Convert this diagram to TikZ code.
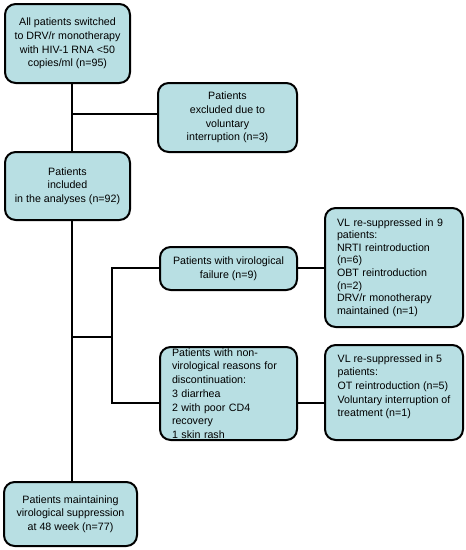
\documentclass[tikz,border=0pt]{standalone}
\usepackage{fontspec}
\setmainfont{Liberation Sans}
\definecolor{boxfill}{RGB}{184,223,227}
\begin{document}
\begin{tikzpicture}[x=0.75pt,y=-0.75pt,
  box/.style={draw=black,line width=1.5pt,fill=boxfill,rounded corners=8pt,
    inner sep=0pt,font=\fontsize{8pt}{10.3pt}\selectfont},
  cbox/.style={box,align=center},
  lbox/.style={box,align=left},
  link/.style={line width=1.5pt}]
\useasboundingbox (0,0) rectangle (465,550);
\node[cbox,minimum width=125*0.75pt,minimum height=79*0.75pt] (b1) at (67.5,43.5)
  {All patients switched\\to DRV/r monotherapy\\with HIV-1 RNA <50\\copies/ml (n=95)};
\node[cbox,minimum width=139*0.75pt,minimum height=69*0.75pt] (b2) at (227.5,117.5)
  {Patients\\excluded due to\\voluntary\\interruption (n=3)};
\node[cbox,minimum width=125*0.75pt,minimum height=68*0.75pt] (b3) at (67.5,186)
  {Patients\\included\\in the analyses (n=92)};
\node[cbox,minimum width=137*0.75pt,minimum height=43*0.75pt] (b4) at (228.5,268.5)
  {Patients with virological\\failure (n=9)};
\node[lbox,font=\fontsize{8pt}{9.4pt}\selectfont,text width=114*0.75pt,minimum width=138*0.75pt,minimum height=119*0.75pt] (b5) at (394,267.5)
  {VL re-suppressed in 9\\patients:\\NRTI reintroduction\\(n=6)\\OBT reintroduction\\(n=2)\\DRV/r monotherapy\\maintained (n=1)};
\node[lbox,text width=113*0.75pt,minimum width=137*0.75pt,minimum height=93*0.75pt] (b6) at (228.5,393.5)
  {Patients with non-\\virological reasons for\\discontinuation:\\3 diarrhea\\2 with poor CD4\\recovery\\1 skin rash};
\node[lbox,minimum width=138*0.75pt,minimum height=95*0.75pt] (b7) at (394,392.5)
  {VL re-suppressed in 5\\patients:\\OT reintroduction (n=5)\\Voluntary interruption of\\treatment (n=1)\\\mbox{}};
\node[cbox,minimum width=133*0.75pt,minimum height=64*0.75pt] (b8) at (70.5,514)
  {Patients maintaining\\virological suppression\\at 48 week (n=77)};
\coordinate (j1) at (72,114);
\coordinate (j2) at (72,337);
\coordinate (j3) at (112,337);
\coordinate (u) at (112,268);
\coordinate (d) at (112,403);
\draw[link] (b1.south -| j1) -- (b3.north -| j1);
\draw[link] (j1) -- (b2.west |- j1);
\draw[link] (b3.south -| j1) -- (b8.north -| j1);
\draw[link] (j2) -- (j3);
\draw[link] (b4.west |- u) -- (u) -- (d) -- (b6.west |- d);
\draw[link] (b4.east |- u) -- (b5.west |- u);
\draw[link] (b6.east |- d) -- (b7.west |- d);
\end{tikzpicture}
\end{document}
